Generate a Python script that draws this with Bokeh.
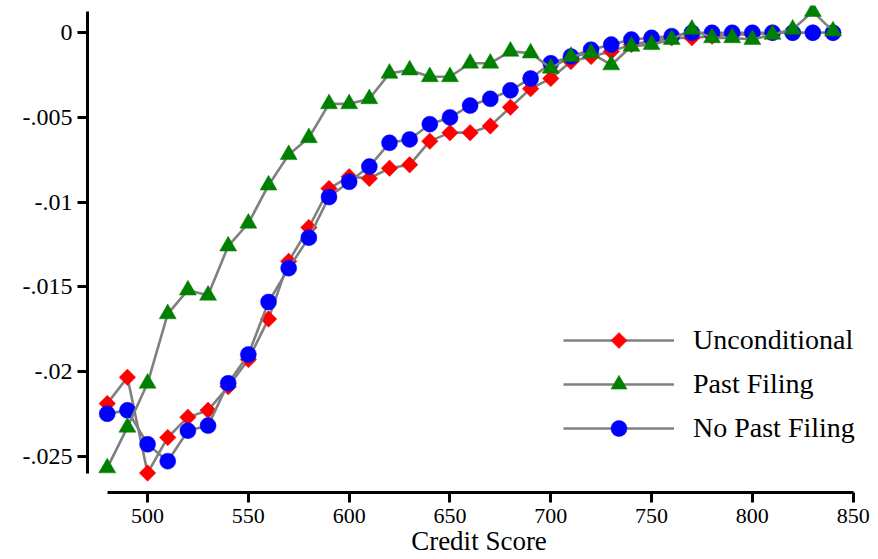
import numpy as np
from bokeh.plotting import figure
from bokeh.models import Range1d, FixedTicker, Legend, LegendItem, CustomJS
from bokeh.embed import file_html
from bokeh.resources import INLINE

# ---------------- data ----------------
credit_score = [480, 490, 500, 510, 520, 530, 540, 550, 560, 570, 580, 590, 600,
                610, 620, 630, 640, 650, 660, 670, 680, 690, 700, 710, 720, 730,
                740, 750, 760, 770, 780, 790, 800, 810, 820, 830, 840]

unconditional = [-0.0219, -0.02035, -0.0260, -0.0239, -0.0227, -0.0223, -0.0209,
                 -0.0193, -0.0169, -0.0135, -0.0115, -0.0092, -0.0085, -0.0086,
                 -0.0080, -0.0078, -0.0064, -0.0059, -0.0059, -0.0055, -0.0044,
                 -0.0033, -0.0027, -0.0017, -0.0014, -0.0011, -0.0007, -0.0005,
                 -0.0003, -0.0003, -0.0002, -0.0001, -0.0001, 0.0, 0.0, 0.0, 0.0]

past_filing = [-0.0257, -0.0233, -0.0207, -0.0166, -0.0152, -0.0155, -0.0126,
               -0.01125, -0.0090, -0.0072, -0.0062, -0.0042, -0.0042, -0.0039,
               -0.0024, -0.0022, -0.0026, -0.0026, -0.0018, -0.0018, -0.0011,
               -0.0012, -0.0021, -0.0014, -0.0012, -0.0019, -0.0008, -0.0007,
               -0.0004, 0.0002, -0.0003, -0.0003, -0.0004, -0.0001, 0.0002,
               0.00125, 0.0001]

no_past_filing = [-0.0225, -0.0223, -0.0243, -0.0253, -0.0235, -0.0232, -0.0207,
                  -0.0190, -0.0159, -0.0139, -0.0121, -0.0097, -0.0088, -0.0079,
                  -0.0065, -0.0063, -0.0054, -0.0050, -0.0043, -0.0039, -0.0034,
                  -0.0027, -0.0018, -0.0014, -0.0010, -0.0007, -0.0004, -0.0003,
                  -0.0002, 0.0, 0.0, 0.0, 0.0, 0.0, 0.0, 0.0, 0.0]

x_ticks = [500, 550, 600, 650, 700, 750, 800, 850]
y_ticks = [0, -0.005, -0.01, -0.015, -0.02, -0.025]
y_tick_labels = ["0", "-.005", "-.01", "-.015", "-.02", "-.025"]

x_label = "Credit Score"
series_names = ["Unconditional", "Past Filing", "No Past Filing"]

# ---------------- figure ----------------
FONT = "Liberation Serif"

p = figure(width=878, height=559,
           x_range=Range1d(470.2, 858.6), y_range=Range1d(-0.02715, 0.00161),
           output_backend="svg", toolbar_location=None,
           min_border_left=87, min_border_right=8, min_border_top=5,
           min_border_bottom=67)

p.outline_line_color = None
p.xgrid.visible = False
p.ygrid.visible = False
p.background_fill_color = "white"
p.border_fill_color = "white"

all_vals = unconditional + past_filing + no_past_filing

xa = p.xaxis[0]
xa.ticker = FixedTicker(ticks=x_ticks)
xa.bounds = (min(credit_score), x_ticks[-1])
xa.axis_label = x_label
xa.axis_label_text_font = FONT
xa.axis_label_text_font_size = "27px"
xa.axis_label_text_font_style = "normal"
xa.axis_label_text_color = "black"
xa.axis_label_standoff = 0
xa.major_label_text_font = FONT
xa.major_label_text_font_size = "22px"
xa.major_label_text_color = "black"
xa.major_label_standoff = 6
xa.axis_line_width = 3
xa.axis_line_color = "black"
xa.major_tick_line_width = 3
xa.major_tick_line_color = "black"
xa.major_tick_in = 0
xa.major_tick_out = 10
xa.minor_tick_line_color = None

ya = p.yaxis[0]
ya.ticker = FixedTicker(ticks=y_ticks)
ya.major_label_overrides = dict(zip(y_ticks, y_tick_labels))
ya.bounds = (min(all_vals), max(all_vals))
ya.major_label_text_font = FONT
ya.major_label_text_font_size = "24px"
ya.major_label_text_color = "black"
ya.major_label_standoff = 5
ya.axis_line_width = 3
ya.axis_line_color = "black"
ya.major_tick_line_width = 3
ya.major_tick_line_color = "black"
ya.major_tick_in = 0
ya.major_tick_out = 10
ya.minor_tick_line_color = None

LINE = "#808080"

# square-shaped diamond marker (Stata style)
sq_diamond = CustomJS(code="""
export default (args, obj, {ctx, i, r, visuals}) => {
    ctx.beginPath()
    ctx.moveTo(0, -r)
    ctx.lineTo(r, 0)
    ctx.lineTo(0, r)
    ctx.lineTo(-r, 0)
    ctx.closePath()
    visuals.fill.apply(ctx, i)
    visuals.line.apply(ctx, i)
}
""")

# Unconditional
l_u = p.line(credit_score, unconditional, line_color=LINE, line_width=2.6)
m_u = p.scatter(credit_score, unconditional, marker="@sqdiamond",
                defs={"@sqdiamond": sq_diamond},
                size=16.5, fill_color="red", line_color="red", line_width=0.5)
# No past filing
l_n = p.line(credit_score, no_past_filing, line_color=LINE, line_width=2.6)
m_n = p.scatter(credit_score, no_past_filing, marker="circle", size=16,
                fill_color="blue", line_color="blue", line_width=0.5)
# Past filing
l_p = p.line(credit_score, past_filing, line_color=LINE, line_width=2.6)
m_p = p.scatter(credit_score, past_filing, marker="triangle", size=17,
                fill_color="green", line_color="green", line_width=0.5)

legend = Legend(items=[
    LegendItem(label=series_names[0], renderers=[l_u, m_u]),
    LegendItem(label=series_names[1], renderers=[l_p, m_p]),
    LegendItem(label=series_names[2], renderers=[l_n, m_n]),
], location=(476, 44))
legend.border_line_color = None
legend.background_fill_alpha = 0
legend.padding = 0
legend.margin = 0
legend.spacing = 4
legend.glyph_width = 111
legend.glyph_height = 40
legend.label_height = 40
legend.label_standoff = 19
legend.label_text_font = FONT
legend.label_text_font_size = "28px"
legend.label_text_color = "black"
legend.label_text_baseline = "middle"
p.add_layout(legend)

open("out.html", "w").write(file_html(p, INLINE))
